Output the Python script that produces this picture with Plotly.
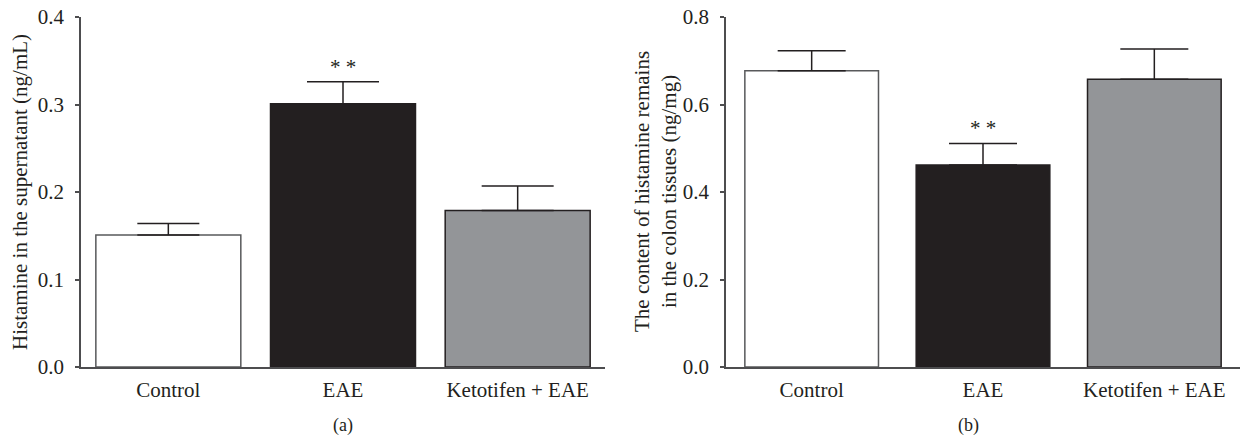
import plotly.graph_objects as go
from plotly.subplots import make_subplots

categories = ["Control", "EAE", "Ketotifen + EAE"]
supernatant_mean = [0.151, 0.301, 0.179]
supernatant_sem = [0.013, 0.025, 0.028]
tissue_mean = [0.677, 0.462, 0.658]
tissue_sem = [0.046, 0.049, 0.069]
significance = ["", "**", ""]
yticks_a = [0.0, 0.1, 0.2, 0.3, 0.4]
yticks_b = [0.0, 0.2, 0.4, 0.6, 0.8]

fill_colors = ["#ffffff", "#231f20", "#939598"]
line_colors = ["#58595b", "#231f20", "#231f20"]
cap_a = [31, 36, 36]
cap_b = [34, 34, 34]

FONT = "Liberation Serif"
FS = 21
W, H = 1246, 440
ML, MR, MT, MB = 0, 0, 17, 73

fig = make_subplots(rows=1, cols=2)

for i, c in enumerate(categories):
    fig.add_trace(go.Bar(
        x=[c], y=[supernatant_mean[i]], width=0.83,
        marker=dict(color=fill_colors[i], line=dict(color=line_colors[i], width=1.5)),
        error_y=dict(type="data", symmetric=False, array=[supernatant_sem[i]], arrayminus=[0],
                     color="#231f20", thickness=1.5, width=cap_a[i]),
        showlegend=False, hoverinfo="skip"), row=1, col=1)
    fig.add_trace(go.Bar(
        x=[c], y=[tissue_mean[i]], width=0.78,
        marker=dict(color=fill_colors[i], line=dict(color=line_colors[i], width=1.5)),
        error_y=dict(type="data", symmetric=False, array=[tissue_sem[i]], arrayminus=[0],
                     color="#231f20", thickness=1.5, width=cap_b[i]),
        showlegend=False, hoverinfo="skip"), row=1, col=2)
    if significance[i]:
        star = " ".join(significance[i])
        fig.add_annotation(x=c, y=supernatant_mean[i] + supernatant_sem[i], xref="x", yref="y",
                           text=star, showarrow=False,
                           yanchor="bottom", yshift=1, font=dict(family=FONT, size=21, color="#231f20"))
        fig.add_annotation(x=c, y=tissue_mean[i] + tissue_sem[i], xref="x2", yref="y2",
                           text=star, showarrow=False,
                           yanchor="bottom", yshift=1, font=dict(family=FONT, size=21, color="#231f20"))

axis_common = dict(showline=True, linecolor="#4d4d4f", linewidth=1.5, showgrid=False,
                   zeroline=False, tickfont=dict(family=FONT, size=FS, color="#231f20"))

fig.update_xaxes(**axis_common, ticks="", range=[-0.5, 2.5], fixedrange=True,
                 ticklabelstandoff=3)
fig.update_yaxes(**axis_common, ticks="outside", ticklen=4, tickwidth=1.5, tickcolor="#4d4d4f",
                 ticklabelstandoff=7, fixedrange=True)

fig.update_layout(
    xaxis=dict(domain=[81 / W, 605 / W]),
    xaxis2=dict(domain=[726 / W, 1240 / W]),
    yaxis=dict(range=[0, 0.4], tickvals=yticks_a, ticktext=[f"{v:.1f}" for v in yticks_a]),
    yaxis2=dict(range=[0, 0.8], tickvals=yticks_b, ticktext=[f"{v:.1f}" for v in yticks_b]),
)

fig.add_annotation(x=20 / W, y=0.5, xref="paper", yref="paper", textangle=-90,
                   xanchor="center", yanchor="middle",
                   text="Histamine in the supernatant (ng/mL)", showarrow=False,
                   font=dict(family=FONT, size=FS, color="#231f20"))
fig.add_annotation(x=655 / W, y=0.5, xref="paper", yref="paper", textangle=-90,
                   xanchor="center", yanchor="middle",
                   text="The content of histamine remains<br>in the colon tissues (ng/mg)",
                   showarrow=False, font=dict(family=FONT, size=FS, color="#231f20"))
fig.add_annotation(x=343 / W, y=(367 - 425) / 350, xref="paper", yref="paper",
                   xanchor="center", yanchor="middle",
                   text="(a)", showarrow=False, font=dict(family=FONT, size=18, color="#231f20"))
fig.add_annotation(x=968 / W, y=(367 - 425) / 350, xref="paper", yref="paper",
                   xanchor="center", yanchor="middle",
                   text="(b)", showarrow=False, font=dict(family=FONT, size=18, color="#231f20"))

fig.update_layout(
    width=W, height=H, barmode="overlay",
    margin=dict(l=ML, r=MR, t=MT, b=MB, autoexpand=False),
    paper_bgcolor="white", plot_bgcolor="white",
    font=dict(family=FONT, color="#231f20"),
)

fig.write_html("out.html", config={"displayModeBar": False},
               post_script="document.body.style.margin='0';")
